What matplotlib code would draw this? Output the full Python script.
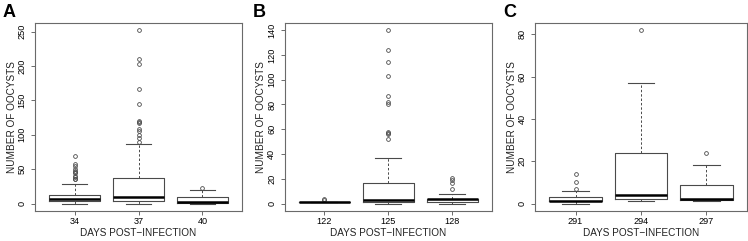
import matplotlib
matplotlib.use("Agg")
import matplotlib.pyplot as plt

plt.rcParams['font.family'] = ['Liberation Sans', 'DejaVu Sans']

# Panel A
days_a = ["34", "37", "40"]
lo_a = [0, 0, 0]
q1_a = [3, 3, 1]
med_a = [6, 10, 2]
q3_a = [13, 37, 9]
hi_a = [29, 86, 20]
out_a = [[35, 36, 38, 40, 44, 46, 48, 50, 54, 58, 69],
         [90, 95, 100, 105, 108, 117, 119, 120, 145, 167, 203, 210, 252],
         [22]]
yt_a = [0, 50, 100, 150, 200, 250]

# Panel B
days_b = ["122", "125", "128"]
lo_b = [1, 0, 0]
q1_b = [1, 1, 1]
med_b = [1, 3, 3.5]
q3_b = [1, 17, 4]
hi_b = [1, 37, 8]
out_b = [[3, 4],
         [52, 56, 57, 58, 80, 82, 87, 103, 114, 124, 140],
         [12, 17, 19, 21]]
yt_b = [0, 20, 40, 60, 80, 100, 120, 140]

# Panel C
days_c = ["291", "294", "297"]
lo_c = [0, 1, 1]
q1_c = [1, 2, 1.5]
med_c = [1, 4, 2]
q3_c = [3, 24, 9]
hi_c = [6, 57, 18]
out_c = [[7, 10, 14],
         [82],
         [24]]
yt_c = [0, 20, 40, 60, 80]

W, H = 748, 241
panels = [
    ("A", days_a, lo_a, q1_a, med_a, q3_a, hi_a, out_a, yt_a, 35, 242, 3),
    ("B", days_b, lo_b, q1_b, med_b, q3_b, hi_b, out_b, yt_b, 284.5, 492, 253),
    ("C", days_c, lo_c, q1_c, med_c, q3_c, hi_c, out_c, yt_c, 535, 747, 503),
]
top_px, bot_px = 23.2, 210.5

lab_fs = 7.2
tick_fs = 6.6

fig = plt.figure(figsize=(W / 100, H / 100), dpi=100)
edge = "#4a4a4a"
frame = "#6a6a6a"
for lab, days, lo, q1, med, q3, hi, outs, yt, l_px, r_px, lab_x in panels:
    wpx = r_px - l_px
    hpx = bot_px - top_px
    ax = fig.add_axes([l_px / W, 1 - bot_px / H, wpx / W, hpx / H])
    stats = []
    for i in range(len(days)):
        stats.append(dict(whislo=lo[i], q1=q1[i], med=med[i], q3=q3[i],
                          whishi=hi[i], fliers=outs[i], label=days[i]))
    ax.bxp(stats, positions=[1, 2, 3], widths=0.8, showfliers=True,
           boxprops=dict(color=edge, linewidth=0.8),
           medianprops=dict(color="black", linewidth=1.8),
           whiskerprops=dict(color=edge, linewidth=0.7, linestyle=(0, (2.5, 2))),
           capprops=dict(color=edge, linewidth=0.8),
           capwidths=0.4,
           flierprops=dict(marker="o", markersize=2.7, markerfacecolor="none",
                           markeredgecolor=edge, markeredgewidth=0.6))
    allv = lo + hi + [v for o in outs for v in o]
    mn, mx = min(allv), max(allv)
    rng = mx - mn
    ax.set_ylim(mn - 0.04 * rng, mx + 0.04 * rng)
    ax.set_xlim(0.38, 3.62)
    ax.set_yticks(yt)
    ax.set_yticklabels([str(v) for v in yt], rotation=90, va="center", fontsize=tick_fs)
    for t in ax.get_xticklabels():
        t.set_fontsize(tick_fs)
    ax.tick_params(axis="x", length=3.2, width=0.7, color=frame, pad=1.6)
    ax.tick_params(axis="y", length=3.2, width=0.7, color=frame, pad=2.8)
    for s in ax.spines.values():
        s.set_color(frame)
        s.set_linewidth(0.8)
    ax.set_xlabel("DAYS POST\u2212INFECTION", fontsize=lab_fs, color="#222222", va="center")
    ax.xaxis.set_label_coords(0.5, -(233 - bot_px) / hpx)
    ax.set_ylabel("NUMBER OF OOCYSTS", fontsize=lab_fs, color="#222222", va="center")
    ax.yaxis.set_label_coords(-23 / wpx, 0.5)
    fig.text(lab_x / W, 1 - 4 / H, lab, fontsize=13, fontweight="bold", va="top", ha="left")

fig.savefig("out.png", dpi=100)
